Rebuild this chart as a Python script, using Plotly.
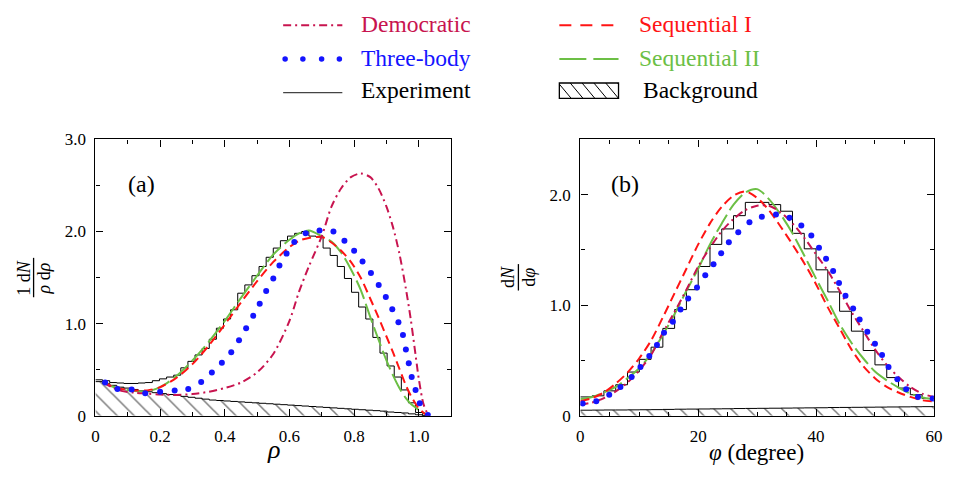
import numpy as np
import plotly.graph_objects as go

W, H = 956, 485
FONT = "Liberation Serif"

CRIMSON = "#c8144f"
BLUE = "#1414ff"
RED = "#ff1414"
GREEN = "#6cbf45"

# ---------------- panel (a): hyperradius rho ----------------
RHO_BIN = 0.022
exp_a = [0.39, 0.38, 0.36, 0.355, 0.35, 0.35, 0.355, 0.36, 0.38, 0.40,
         0.42, 0.44, 0.52, 0.59, 0.66, 0.73, 0.83, 0.95, 1.05, 1.15,
         1.33, 1.42, 1.52, 1.62, 1.72, 1.82, 1.90, 1.95, 1.98, 2.00,
         1.95, 1.94, 1.82, 1.74, 1.62, 1.49, 1.34, 1.18, 1.05, 0.85,
         0.68, 0.54, 0.42, 0.28, 0.14, 0.035, 0.0]
bkg_a = [0.37, 0.35, 0.33, 0.31, 0.30, 0.285, 0.27, 0.26, 0.25, 0.24,
         0.23, 0.22, 0.21, 0.20, 0.19, 0.18, 0.17, 0.165, 0.16, 0.155,
         0.15, 0.145, 0.14, 0.135, 0.13, 0.125, 0.12, 0.115, 0.11, 0.105,
         0.10, 0.095, 0.09, 0.085, 0.08, 0.075, 0.07, 0.065, 0.06, 0.055,
         0.05, 0.04, 0.035, 0.03, 0.02, 0.01, 0.0]

rho_model = [0.025, 0.05, 0.08, 0.12, 0.16, 0.2, 0.25, 0.3, 0.35, 0.4,
             0.45, 0.5, 0.55, 0.6, 0.63, 0.66, 0.7, 0.73, 0.76, 0.79,
             0.82, 0.85, 0.875, 0.9, 0.92, 0.94, 0.96, 0.975, 0.99, 1.0,
             1.015, 1.03]
democratic_a = [0.36, 0.31, 0.27, 0.25, 0.24, 0.23, 0.225, 0.235, 0.26, 0.30,
                0.36, 0.47, 0.67, 1.03, 1.35, 1.62, 1.95, 2.27, 2.47, 2.59,
                2.63, 2.59, 2.47, 2.27, 2.05, 1.76, 1.38, 1.05, 0.66, 0.40,
                0.12, 0.0]
sequential1_a = [0.37, 0.32, 0.29, 0.275, 0.275, 0.31, 0.41, 0.56, 0.76, 0.99,
                 1.23, 1.46, 1.67, 1.83, 1.90, 1.93, 1.94, 1.88, 1.79, 1.67,
                 1.50, 1.27, 1.07, 0.86, 0.69, 0.51, 0.33, 0.22, 0.13, 0.08,
                 0.03, 0.0]
sequential2_a = [0.37, 0.32, 0.29, 0.27, 0.265, 0.31, 0.43, 0.60, 0.80, 1.03,
                 1.28, 1.52, 1.75, 1.91, 1.98, 2.01, 1.95, 1.89, 1.77, 1.59,
                 1.37, 1.07, 0.83, 0.60, 0.44, 0.30, 0.19, 0.13, 0.09, 0.06,
                 0.03, 0.01]
threebody_rho = [0.03, 0.068, 0.112, 0.154, 0.2, 0.245, 0.287, 0.327, 0.36, 0.391,
                 0.42, 0.444, 0.466, 0.488, 0.508, 0.528, 0.55, 0.569, 0.591, 0.615,
                 0.65, 0.693, 0.736, 0.77, 0.8, 0.826, 0.852, 0.876, 0.898, 0.918,
                 0.937, 0.951, 0.96, 0.969, 0.978, 0.99, 1.003, 1.028]
threebody_a = [0.36, 0.29, 0.285, 0.245, 0.26, 0.275, 0.29, 0.365, 0.47, 0.575,
               0.69, 0.82, 0.95, 1.085, 1.215, 1.355, 1.49, 1.63, 1.76, 1.885,
               1.98, 2.01, 2.0, 1.9, 1.79, 1.675, 1.55, 1.42, 1.29, 1.155,
               1.015, 0.875, 0.72, 0.57, 0.42, 0.28, 0.135, 0.008]

# ---------------- panel (b): angle phi ----------------
PHI_BIN = 2.0
exp_b = [0.17, 0.18, 0.225, 0.28, 0.395, 0.51, 0.62, 0.79, 0.96, 1.14,
         1.35, 1.55, 1.69, 1.81, 1.93, 1.93, 1.91, 1.85, 1.65, 1.51,
         1.32, 1.12, 0.945, 0.765, 0.59, 0.46, 0.345, 0.25, 0.19, 0.155]
bkg_b = [0.050, 0.051, 0.052, 0.052, 0.053, 0.054, 0.055, 0.057, 0.059, 0.060,
         0.061, 0.062, 0.063, 0.065, 0.066, 0.067, 0.068, 0.069, 0.070, 0.071,
         0.072, 0.074, 0.075, 0.076, 0.077, 0.078, 0.079, 0.080, 0.081, 0.082]

phi_model = [0, 2, 4, 6, 8, 10, 12, 14, 16, 18, 20, 22, 24, 26, 28, 30,
             32, 34, 36, 38, 40, 42, 44, 46, 48, 50, 52, 54, 56, 58, 60]
democratic_b = [0.10, 0.12, 0.16, 0.22, 0.30, 0.41, 0.55, 0.75, 0.94, 1.14,
                1.35, 1.52, 1.67, 1.78, 1.86, 1.90, 1.90, 1.84, 1.74, 1.61,
                1.46, 1.31, 1.13, 0.94, 0.77, 0.60, 0.46, 0.35, 0.26, 0.20,
                0.17]
sequential1_b = [0.13, 0.16, 0.21, 0.29, 0.39, 0.52, 0.68, 0.89, 1.11, 1.33,
                 1.55, 1.74, 1.89, 1.99, 2.03, 1.97, 1.86, 1.71, 1.55, 1.38,
                 1.19, 0.98, 0.79, 0.60, 0.45, 0.34, 0.26, 0.21, 0.17, 0.14,
                 0.13]
sequential2_b = [0.15, 0.17, 0.21, 0.26, 0.34, 0.43, 0.56, 0.73, 0.92, 1.13,
                 1.33, 1.55, 1.74, 1.91, 2.02, 2.05, 1.96, 1.82, 1.65, 1.45,
                 1.24, 1.04, 0.83, 0.66, 0.52, 0.40, 0.32, 0.255, 0.20, 0.165,
                 0.15]
threebody_phi = [0.4, 2.7, 4.9, 6.8, 8.7, 10.2, 11.7, 13.0, 14.2, 15.7,
                 17.0, 18.3, 19.8, 21.2, 22.6, 23.9, 25.2, 26.8, 28.7, 30.8,
                 33.2, 35.5, 37.5, 39.2, 40.5, 41.7, 42.9, 43.9, 45.0, 46.3,
                 47.4, 48.7, 50.0, 51.2, 52.3, 53.8, 55.3, 57.3, 59.8]
threebody_b = [0.11, 0.13, 0.19, 0.26, 0.35, 0.44, 0.54, 0.64, 0.75, 0.85,
               0.96, 1.06, 1.16, 1.27, 1.37, 1.47, 1.57, 1.66, 1.75, 1.80,
               1.82, 1.79, 1.72, 1.63, 1.52, 1.42, 1.31, 1.20, 1.085, 0.97,
               0.87, 0.76, 0.65, 0.55, 0.44, 0.33, 0.24, 0.17, 0.155]

# tick labels
a_xticks = [0, 0.2, 0.4, 0.6, 0.8, 1.0]
a_xlabels = ["0", "0.2", "0.4", "0.6", "0.8", "1.0"]
a_yticks = [0, 1, 2, 3]
a_ylabels = ["0", "1.0", "2.0", "3.0"]
b_xticks = [0, 20, 40, 60]
b_xlabels = ["0", "20", "40", "60"]
b_yticks = [0, 1, 2]
b_ylabels = ["0", "1.0", "2.0"]

# legend entries: (label, colour)
legend_left = [("Democratic", CRIMSON), ("Three-body", BLUE), ("Experiment", "black")]
legend_right = [("Sequential I", RED), ("Sequential II", GREEN), ("Background", "black")]


def px(x):
    return x / W


def py(y):
    return 1 - y / H


def step_xy(values, width):
    edges = np.arange(len(values) + 1) * width
    return edges, list(values) + [values[-1]]


HATCH = dict(shape="\\", fgcolor="black", bgcolor="white", size=12, solidity=0.13)
DASH_DEM = "8px,4px,2px,4px"
DASH_S1 = "9px,5px"
DASH_S2 = "20px,5px"

fig = go.Figure()


def add_panel(xa, ya, bin_w, bkg, exp, xm, dem, s1, s2, xt, tb):
    bx, by = step_xy(bkg, bin_w)
    fig.add_trace(go.Scatter(x=bx, y=by, mode="lines", xaxis=xa, yaxis=ya,
                             line=dict(shape="hv", color="black", width=1),
                             fill="tozeroy", fillcolor="white", fillpattern=HATCH,
                             showlegend=False, hoverinfo="skip"))
    ex, ey = step_xy(exp, bin_w)
    fig.add_trace(go.Scatter(x=ex, y=ey, mode="lines", xaxis=xa, yaxis=ya,
                             line=dict(shape="hv", color="black", width=1),
                             showlegend=False))
    fig.add_trace(go.Scatter(x=xm, y=s2, mode="lines", xaxis=xa, yaxis=ya,
                             line=dict(shape="spline", smoothing=0.8, color=GREEN, width=2, dash=DASH_S2),
                             showlegend=False))
    fig.add_trace(go.Scatter(x=xm, y=s1, mode="lines", xaxis=xa, yaxis=ya,
                             line=dict(shape="spline", smoothing=0.8, color=RED, width=2, dash=DASH_S1),
                             showlegend=False))
    fig.add_trace(go.Scatter(x=xm, y=dem, mode="lines", xaxis=xa, yaxis=ya,
                             line=dict(shape="spline", smoothing=0.8, color=CRIMSON, width=2, dash=DASH_DEM),
                             showlegend=False))
    fig.add_trace(go.Scatter(x=xt, y=tb, mode="markers", xaxis=xa, yaxis=ya,
                             marker=dict(size=6, color=BLUE, line=dict(width=0)),
                             showlegend=False))


add_panel("x", "y", RHO_BIN, bkg_a, exp_a, rho_model, democratic_a,
          sequential1_a, sequential2_a, threebody_rho, threebody_a)
add_panel("x2", "y2", PHI_BIN, bkg_b, exp_b, phi_model, democratic_b,
          sequential1_b, sequential2_b, threebody_phi, threebody_b)


def axis(domain, rng, tickvals, ticktext, minor_dtick, anchor):
    return dict(domain=domain, range=rng, anchor=anchor,
                showline=True, mirror="allticks", linecolor="black", linewidth=1.3,
                ticks="inside", ticklen=7, tickwidth=1, tickcolor="black",
                tickvals=tickvals, ticktext=ticktext,
                minor=dict(dtick=minor_dtick, tick0=0, ticks="inside", ticklen=4,
                           tickwidth=1, tickcolor="black", showgrid=False),
                showgrid=False, zeroline=False, ticklabelstandoff=5,
                tickfont=dict(family=FONT, size=17, color="black"))


ydom = [py(423.3), py(135.7)]
fig.update_layout(
    width=W, height=H, margin=dict(l=0, r=0, t=0, b=0),
    paper_bgcolor="white", plot_bgcolor="white", showlegend=False,
    xaxis=axis([px(92.7), px(453.3)], [0, 1.1], a_xticks, a_xlabels, 0.1, "y"),
    yaxis=axis(ydom, [0, 3.0], a_yticks, a_ylabels, 0.5, "x"),
    xaxis2=axis([px(584.3), px(942.7)], [0, 60], b_xticks, b_xlabels, 5, "y2"),
    yaxis2=axis(ydom, [0, 2.5], b_yticks, b_ylabels, 0.5, "x2"),
)

ann = []
shapes = []


def text(x, y, s, size, color="black", xanchor="center", angle=0):
    ann.append(dict(x=px(x), y=py(y), xref="paper", yref="paper", text=s,
                    showarrow=False, xanchor=xanchor, yanchor="middle", textangle=angle,
                    font=dict(family=FONT, size=size, color=color)))


# panel tags and axis titles
text(139, 182, "(a)", 24)
text(630, 182, "(b)", 24)
text(273, 458, "<i>ρ</i>", 26)
text(763, 462, "<i>φ</i> (degree)", 23)

# stacked-fraction y titles
text(20, 280, "1 d<i>N</i>", 18, angle=-90)
text(41, 280, "<i>ρ</i> d<i>ρ</i>", 18, angle=-90)
shapes.append(dict(type="line", xref="paper", yref="paper", x0=px(30), x1=px(30),
                   y0=py(259), y1=py(300), line=dict(color="black", width=1.3)))
text(511, 279, "d<i>N</i>", 18, angle=-90)
text(532, 279, "d<i>φ</i>", 18, angle=-90)
shapes.append(dict(type="line", xref="paper", yref="paper", x0=px(521.5), x1=px(521.5),
                   y0=py(265.5), y1=py(293), line=dict(color="black", width=1.3)))

# legend
rows = [17, 52, 85]
for (lab, col), yy in zip(legend_left, rows):
    text(360, yy - 1, lab, 23.5, color=col, xanchor="left")
for (lab, col), yy in zip(legend_right, rows):
    text(642 if lab != "Background" else 646, yy - 1, lab, 23.5, color=col, xanchor="left")


def hline(x0, x1, y, color, width, dash="solid"):
    shapes.append(dict(type="line", xref="paper", yref="paper", x0=px(x0), x1=px(x1),
                       y0=py(y), y1=py(y), line=dict(color=color, width=width, dash=dash)))


hline(283, 343, rows[0], CRIMSON, 2, DASH_DEM)
for cx in (285, 303, 322, 340):
    shapes.append(dict(type="circle", xref="paper", yref="paper",
                       x0=px(cx - 2.8), x1=px(cx + 2.8), y0=py(rows[1] + 2.8), y1=py(rows[1] - 2.8),
                       fillcolor=BLUE, line=dict(width=0)))
hline(283, 343, rows[2] + 2, "#444444", 1.3)
hline(563, 623, rows[0], RED, 2, "12px,9px")
hline(563, 623, rows[1], GREEN, 2, "27px,7px")

# hatched swatch for the background entry
bx0, bx1, by0, by1 = 563, 623, 77, 93
slope_dx = 13
t = bx0 - slope_dx
while t < bx1:
    xs, ys = t, by0
    xe, ye = t + slope_dx, by1
    if xs < bx0:
        ys = by0 + (bx0 - xs) * (by1 - by0) / slope_dx
        xs = bx0
    if xe > bx1:
        ye = by0 + (bx1 - t) * (by1 - by0) / slope_dx
        xe = bx1
    shapes.append(dict(type="line", xref="paper", yref="paper", x0=px(xs), x1=px(xe),
                       y0=py(ys), y1=py(ye), line=dict(color="black", width=1)))
    t += 12
shapes.append(dict(type="rect", xref="paper", yref="paper", x0=px(bx0), x1=px(bx1),
                   y0=py(by1), y1=py(by0), line=dict(color="black", width=1.3)))

fig.update_layout(annotations=ann, shapes=shapes)
fig.write_html("out.html")
